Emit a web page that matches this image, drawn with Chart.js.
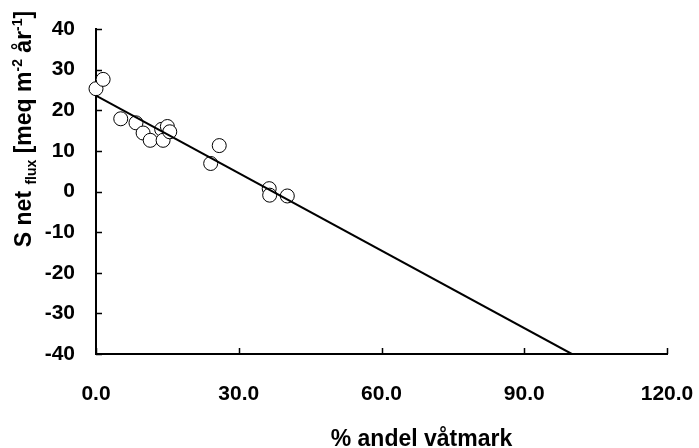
<!DOCTYPE html>
<html>
<head>
<meta charset="utf-8">
<script src="https://cdn.jsdelivr.net/npm/chart.js@4.4.0/dist/chart.umd.min.js"></script>
<style>
    html, body { margin: 0; padding: 0; background: #fff; }
    #wrap { width: 699px; height: 448px; position: relative; }
</style>
</head>
<body>
<div id="wrap"><canvas id="wetlandChart"></canvas></div>
<script>
// Wetland share vs. net S flux - scatter with fitted line

// observed points
const wetlandPct = [0, 1.5, 5.2, 8.4, 9.9, 11.4, 13.8, 14.1, 15.0, 15.5, 24.1, 25.9, 36.4, 36.5, 40.2];
const sNetFlux = [25.3, 27.6, 17.9, 16.9, 14.4, 12.6, 15.3, 12.6, 16.0, 14.7, 6.9, 11.3, 0.7, -0.9, -1.1];

// regression line end points
const fitX = [0, 100];
const fitY = [23.6, -40];

const xTicks = [0, 30, 60, 90, 120];
const yTicks = [-40, -30, -20, -10, 0, 10, 20, 30, 40];

const FONT = 'Arial, "Liberation Sans", sans-serif';

// inward tick marks + axis titles (sub/superscripts need manual drawing)
const decorPlugin = {
    id: 'decor',
    afterDraw(chart) {
        const ctx = chart.ctx;
        const xs = chart.scales.x;
        const ys = chart.scales.y;
        const area = chart.chartArea;

        ctx.save();
        ctx.strokeStyle = '#000';
        ctx.lineWidth = 1.5;
        ctx.beginPath();
        yTicks.forEach(v => {
            const py = Math.round(ys.getPixelForValue(v)) + 0.5;
            ctx.moveTo(area.left, py);
            ctx.lineTo(area.left + 6, py);
        });
        xTicks.forEach(v => {
            const px = Math.round(xs.getPixelForValue(v)) + 0.5;
            ctx.moveTo(px, area.bottom);
            ctx.lineTo(px, area.bottom - 6);
        });
        ctx.stroke();

        // x title
        ctx.fillStyle = '#000';
        ctx.font = 'bold 23px ' + FONT;
        ctx.textAlign = 'center';
        ctx.textBaseline = 'alphabetic';
        ctx.fillText('% andel våtmark', (area.left + area.right) / 2 + 40, 446);

        // y title, rotated
        const parts = [
            { t: 'S net ', size: 23, dy: 0 },
            { t: 'flux', size: 14, dy: 5 },
            { t: ' [meq m', size: 23, dy: 0 },
            { t: '-2', size: 14, dy: -9 },
            { t: ' år', size: 23, dy: 0 },
            { t: '-1', size: 14, dy: -9 },
            { t: ']', size: 23, dy: 0 }
        ];
        let total = 0;
        parts.forEach(p => {
            ctx.font = 'bold ' + p.size + 'px ' + FONT;
            p.w = ctx.measureText(p.t).width;
            total += p.w;
        });
        ctx.translate(31, 129);
        ctx.rotate(-Math.PI / 2);
        ctx.textAlign = 'left';
        let cx = -total / 2;
        parts.forEach(p => {
            ctx.font = 'bold ' + p.size + 'px ' + FONT;
            ctx.fillText(p.t, cx, p.dy);
            cx += p.w;
        });
        ctx.restore();
    }
};

// keep the plot area fixed, labels may overhang the padding
function noScalePadding(axis) {
    axis.paddingLeft = 0;
    axis.paddingRight = 0;
    axis.paddingTop = 0;
    axis.paddingBottom = 0;
}

function createChart() {
    const points = wetlandPct.map((x, i) => ({ x: x, y: sNetFlux[i] }));
    const fit = fitX.map((x, i) => ({ x: x, y: fitY[i] }));

    const config = {
        type: 'scatter',
        data: {
            datasets: [
                {
                    label: 'fit',
                    data: fit,
                    showLine: true,
                    borderColor: '#000',
                    borderWidth: 2,
                    pointRadius: 0,
                    fill: false
                },
                {
                    label: 'obs',
                    data: points,
                    clip: false,
                    pointRadius: 7,
                    pointBackgroundColor: '#fff',
                    pointBorderColor: '#000',
                    pointBorderWidth: 1
                }
            ]
        },
        options: {
            responsive: false,
            animation: false,
            layout: { padding: { top: 29, right: 32, left: 0, bottom: 0 } },
            plugins: {
                legend: { display: false },
                tooltip: { enabled: false }
            },
            scales: {
                x: {
                    type: 'linear',
                    min: 0,
                    max: 120,
                    afterBuildTicks: axis => { axis.ticks = xTicks.map(v => ({ value: v })); },
                    afterFit: axis => { axis.height = 94; noScalePadding(axis); },
                    grid: { display: false, drawTicks: false },
                    border: { display: true, color: '#000', width: 2 },
                    ticks: {
                        padding: 28,
                        color: '#000',
                        maxRotation: 0,
                        font: { family: FONT, size: 21, weight: 'bold' },
                        callback: v => v.toFixed(1)
                    }
                },
                y: {
                    type: 'linear',
                    min: -40,
                    max: 40,
                    afterBuildTicks: axis => { axis.ticks = yTicks.map(v => ({ value: v })); },
                    afterFit: axis => { axis.width = 96; noScalePadding(axis); },
                    grid: { display: false, drawTicks: false },
                    border: { display: true, color: '#000', width: 2 },
                    ticks: {
                        padding: 21,
                        color: '#000',
                        font: { family: FONT, size: 21, weight: 'bold' }
                    }
                }
            }
        },
        plugins: [decorPlugin]
    };

    const canvas = document.getElementById('wetlandChart');
    canvas.width = 699;
    canvas.height = 448;
    return new Chart(canvas.getContext('2d'), config);
}

createChart();
</script>
</body>
</html>
